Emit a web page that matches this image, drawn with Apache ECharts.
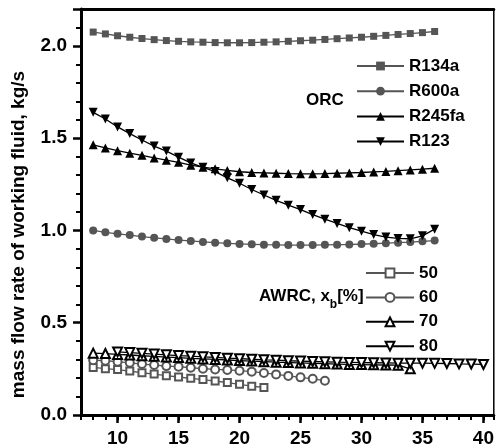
<!DOCTYPE html>
<html>
<head>
<meta charset="utf-8">
<script src="https://cdn.jsdelivr.net/npm/echarts@6/dist/echarts.min.js"></script>
<style>
  html, body { margin: 0; padding: 0; background: #fff; }
  #chart { width: 497px; height: 448px; }
</style>
</head>
<body>
<div id="chart"></div>
<script>
// ORC working fluids, x = 8..36
const orcX = [8, 9, 10, 11, 12, 13, 14, 15, 16, 17, 18, 19, 20, 21, 22, 23, 24, 25, 26, 27, 28, 29, 30, 31, 32, 33, 34, 35, 36]
const r134a = [2.075, 2.065, 2.055, 2.047, 2.04, 2.034, 2.029, 2.025, 2.022, 2.02, 2.018, 2.017, 2.017, 2.018, 2.02, 2.022, 2.025, 2.028, 2.031, 2.035, 2.039, 2.043, 2.047, 2.052, 2.057, 2.062, 2.067, 2.072, 2.078]
const r600a = [1.0, 0.99, 0.982, 0.975, 0.967, 0.96, 0.954, 0.948, 0.943, 0.938, 0.934, 0.93, 0.927, 0.925, 0.923, 0.922, 0.921, 0.921, 0.921, 0.922, 0.923, 0.924, 0.926, 0.928, 0.931, 0.934, 0.937, 0.941, 0.945]
const r245fa = [1.464, 1.447, 1.432, 1.419, 1.407, 1.393, 1.381, 1.369, 1.354, 1.343, 1.334, 1.325, 1.318, 1.314, 1.312, 1.31, 1.308, 1.307, 1.307, 1.308, 1.31, 1.312, 1.314, 1.317, 1.32, 1.324, 1.328, 1.332, 1.337]
const r123 = [1.64, 1.604, 1.561, 1.525, 1.49, 1.457, 1.43, 1.397, 1.366, 1.342, 1.319, 1.285, 1.256, 1.222, 1.192, 1.163, 1.137, 1.113, 1.086, 1.061, 1.038, 1.015, 0.996, 0.978, 0.964, 0.957, 0.955, 0.971, 1.007]

// AWRC, x_b = 50 / 60 / 70 / 80 %
const x50 = [8, 9, 10, 11, 12, 13, 14, 15, 16, 17, 18, 19, 20, 21, 22]
const v50 = [0.258, 0.251, 0.246, 0.238, 0.229, 0.222, 0.213, 0.206, 0.199, 0.192, 0.184, 0.176, 0.166, 0.156, 0.149]
const x60 = [8, 9, 10, 11, 12, 13, 14, 15, 16, 17, 18, 19, 20, 21, 22, 23, 24, 25, 26, 27]
const v60 = [0.297, 0.294, 0.289, 0.283, 0.276, 0.271, 0.265, 0.262, 0.256, 0.251, 0.247, 0.244, 0.24, 0.235, 0.228, 0.22, 0.212, 0.204, 0.196, 0.186]
const x70 = [8, 9, 10, 11, 12, 13, 14, 15, 16, 17, 18, 19, 20, 21, 22, 23, 24, 25, 26, 27, 28, 29, 30, 31, 32, 33, 34]
const v70 = [0.335, 0.333, 0.328, 0.325, 0.321, 0.318, 0.314, 0.311, 0.307, 0.304, 0.301, 0.298, 0.295, 0.292, 0.289, 0.286, 0.284, 0.282, 0.28, 0.278, 0.276, 0.274, 0.273, 0.272, 0.271, 0.27, 0.25]
const x80 = [10, 11, 12, 13, 14, 15, 16, 17, 18, 19, 20, 21, 22, 23, 24, 25, 26, 27, 28, 29, 30, 31, 32, 33, 34, 35, 36, 37, 38, 39, 40]
const v80 = [0.342, 0.338, 0.334, 0.33, 0.326, 0.322, 0.319, 0.315, 0.312, 0.308, 0.305, 0.302, 0.299, 0.297, 0.294, 0.292, 0.29, 0.288, 0.286, 0.285, 0.284, 0.283, 0.282, 0.281, 0.281, 0.281, 0.28, 0.279, 0.277, 0.276, 0.274]

const xMajorTicks = [10, 15, 20, 25, 30, 35, 40]
const orcNames = ['R134a', 'R600a', 'R245fa', 'R123']
const awrcNames = ['50', '60', '70', '80']

const FONT = '"Liberation Sans", Arial, sans-serif'
const GREY = '#555'

function pairs(xs, ys) {
  return xs.map((x, i) => [x, ys[i]])
}

function lineSeries(name, xs, ys, color, symbol, size, rotate) {
  return {
    name,
    type: 'line',
    data: pairs(xs, ys),
    symbol,
    symbolSize: size,
    symbolRotate: rotate || 0,
    showAllSymbol: true,
    color,
    itemStyle: { color, borderWidth: 1.2 },
    lineStyle: { color, width: 1.3 },
    emphasis: { disabled: true },
    animation: false,
  }
}

const chart = echarts.init(document.getElementById('chart'))

chart.setOption({
  animation: false,
  textStyle: { fontFamily: FONT },
  grid: { left: 81, right: 2, top: 9, bottom: 30, show: true, borderColor: '#000', borderWidth: 1.5 },
  xAxis: [
    {
      type: 'value', min: 7, max: 40.85, interval: 1, position: 'bottom',
      axisLine: { lineStyle: { color: '#000', width: 3 } },
      axisTick: { length: 5, lineStyle: { color: '#000', width: 2 } },
      axisLabel: { show: false },
      splitLine: { show: false },
    },
    {
      type: 'value', min: 7, max: 40.85, position: 'bottom',
      axisLine: { show: false },
      axisTick: { length: 8, customValues: xMajorTicks, lineStyle: { color: '#000', width: 2.5 } },
      axisLabel: {
        customValues: xMajorTicks, margin: 14,
        color: '#000', fontWeight: 'bold', fontSize: 19, fontFamily: FONT,
      },
      splitLine: { show: false },
    },
    {
      type: 'value', min: 7, max: 40.85, position: 'top',
      axisLine: { lineStyle: { color: '#000', width: 3 } },
      axisTick: { show: false },
      axisLabel: { show: false },
      splitLine: { show: false },
    },
  ],
  yAxis: {
    type: 'value', min: 0, max: 2.2, interval: 0.5,
    name: 'mass flow rate of working fluid, kg/s',
    nameLocation: 'middle', nameGap: 53,
    nameTextStyle: {
      color: '#000', fontWeight: 'bold', fontSize: 19, fontFamily: FONT,
      padding: [0, 45, 0, 0],
    },
    axisLine: { lineStyle: { color: '#000', width: 3 } },
    axisTick: { length: 8, lineStyle: { color: '#000', width: 2.5 } },
    minorTick: { show: true, splitNumber: 5, length: 5, lineStyle: { color: '#000', width: 2 } },
    axisLabel: {
      showMaxLabel: false, margin: 14,
      color: '#000', fontWeight: 'bold', fontSize: 19, fontFamily: FONT,
      formatter: v => v.toFixed(1),
    },
    splitLine: { show: false },
  },
  legend: [
    {
      data: orcNames, orient: 'vertical', left: 356, top: 57, padding: 0,
      itemWidth: 47, itemHeight: 11, itemGap: 7.2,
      textStyle: { color: '#000', fontWeight: 'bold', fontSize: 17, lineHeight: 18, fontFamily: FONT },
      selectedMode: false,
    },
    {
      data: awrcNames, orient: 'vertical', left: 365, top: 264, padding: 0,
      itemWidth: 48, itemHeight: 11, itemGap: 6.4,
      textStyle: { color: '#000', fontWeight: 'bold', fontSize: 17, lineHeight: 18, fontFamily: FONT },
      selectedMode: false,
    },
  ],
  graphic: [
    {
      type: 'text', x: 306, y: 100, silent: true,
      style: { text: 'ORC', fill: '#000', font: 'bold 17px ' + FONT, verticalAlign: 'middle' },
    },
    {
      type: 'text', x: 259, y: 288, silent: true,
      style: {
        text: '{a|AWRC, x}{b|b}{a|[%]}',
        fill: '#000',
        rich: {
          a: { font: 'bold 17px ' + FONT, fill: '#000', lineHeight: 18, verticalAlign: 'top' },
          b: { font: 'bold 12px ' + FONT, fill: '#000', lineHeight: 23, verticalAlign: 'bottom' },
        },
      },
    },
  ],
  series: [
    lineSeries('R134a', orcX, r134a, GREY, 'rect', 7),
    lineSeries('R600a', orcX, r600a, GREY, 'circle', 8),
    lineSeries('R245fa', orcX, r245fa, '#000', 'triangle', 9),
    lineSeries('R123', orcX, r123, '#000', 'triangle', 9, 180),
    lineSeries('50', x50, v50, GREY, 'emptyRect', 7),
    lineSeries('60', x60, v60, GREY, 'emptyCircle', 8),
    lineSeries('70', x70, v70, '#000', 'emptyTriangle', 9),
    lineSeries('80', x80, v80, '#000', 'emptyTriangle', 9, 180),
  ],
})
</script>
</body>
</html>
